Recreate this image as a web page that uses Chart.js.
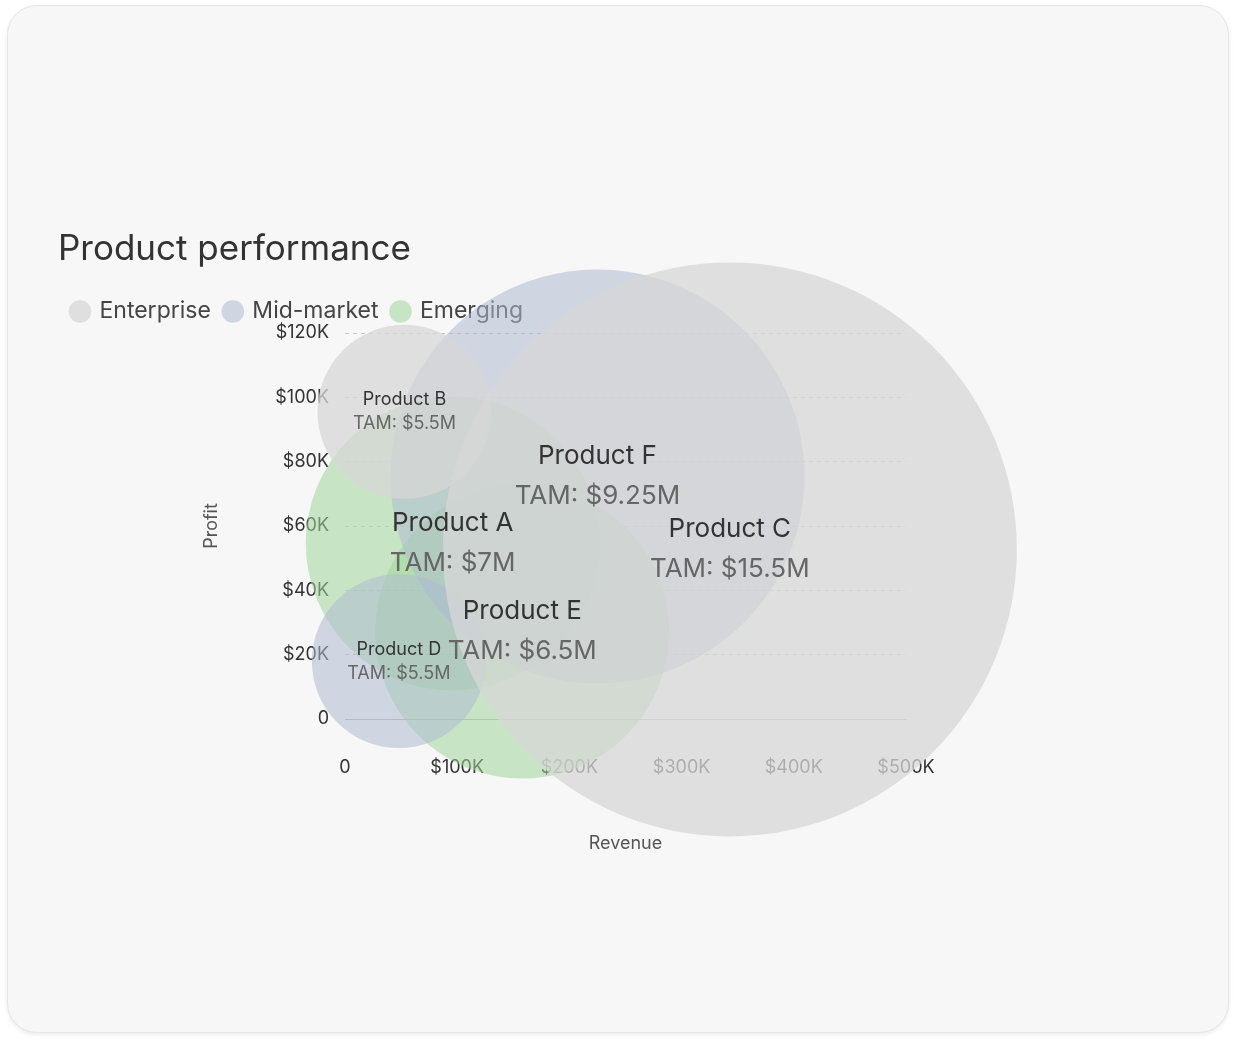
<!DOCTYPE html>
<html>
<head>
<meta charset="utf-8">
<script src="https://cdn.jsdelivr.net/npm/chart.js@4"></script>
<style>
  body { margin: 0; background: #fff; font-family: Inter, sans-serif; }
  .card { position: absolute; left: 7px; top: 5px; width: 1220px; height: 1026px;
          background: #f7f7f7; border: 1px solid #e6e6e6; border-radius: 30px;
          box-shadow: 0 2px 4px rgba(0,0,0,0.08); }
  #myChart { position: absolute; left: 50px; top: 40px; }
</style>
</head>
<body>
<div class="card"><canvas id="myChart" width="1135" height="960" style="width:1135px;height:960px"></canvas></div>
<script>
var products = ['Product A', 'Product B', 'Product C', 'Product D', 'Product E', 'Product F'];
var segment = ['Emerging', 'Enterprise', 'Enterprise', 'Mid-market', 'Emerging', 'Mid-market'];
var revenue = [96, 53, 343, 48, 158, 225];   // $K
var profit = [54.6, 95.5, 52.7, 18, 27.2, 75.4]; // $K
var tamLabel = ['$7M', '$5.5M', '$15.5M', '$5.5M', '$6.5M', '$9.25M'];
var bubbleSize = [147, 87, 287, 87, 147, 207];
var segments = ['Enterprise', 'Mid-market', 'Emerging'];
var segColors = ['rgba(215,215,215,0.75)', 'rgba(175,185,208,0.55)', 'rgba(160,215,155,0.55)'];

var datasets = segments.map(function (s, si) {
  var pts = [];
  products.forEach(function (p, i) {
    if (segment[i] === s) pts.push({ x: revenue[i], y: profit[i], r: bubbleSize[i], name: p, tam: tamLabel[i] });
  });
  return { label: s, data: pts, backgroundColor: segColors[si], borderWidth: 0, hoverRadius: 0, clip: false };
});

var bubbleLabels = {
  id: 'bubbleLabels',
  afterDatasetsDraw: function (chart) {
    var c = chart.ctx;
    c.save();
    c.textAlign = 'center';
    c.textBaseline = 'middle';
    chart.data.datasets.forEach(function (ds, di) {
      chart.getDatasetMeta(di).data.forEach(function (el, i) {
        var d = ds.data[i];
        var big = d.r > 100;
        var fs = big ? 26 : 18;
        var gap = big ? 20 : 12;
        c.font = fs + 'px Inter';
        c.fillStyle = '#333';
        c.fillText(d.name, el.x, el.y - gap);
        c.fillStyle = '#666';
        c.fillText('TAM: ' + d.tam, el.x, el.y + gap);
      });
    });
    c.restore();
  }
};

var ctx = document.getElementById('myChart').getContext('2d');
var chart = new Chart(ctx, {
  type: 'bubble',
  data: { datasets: datasets },
  plugins: [bubbleLabels],
  options: {
    responsive: false,
    animation: false,
    plugins: {
      title: { display: true, text: 'Product performance', align: 'start', color: '#333',
               font: { family: 'Inter', size: 35, weight: 'normal' }, padding: { top: 6, bottom: 16 } },
      legend: { align: 'start', labels: { usePointStyle: true, pointStyle: 'circle', boxWidth: 16, boxHeight: 16,
               color: '#444', font: { family: 'Inter', size: 23 }, padding: 14 } },
      tooltip: { enabled: false }
    },
    layout: { padding: { right: 25, bottom: 12, top: 0 } },
    scales: {
      x: {
        min: 0, max: 500,
        ticks: { stepSize: 100, color: '#333', font: { family: 'Inter', size: 18 }, padding: 30,
                 callback: function (v) { return v === 0 ? '0' : '$' + v + 'K'; } },
        grid: { display: false },
        border: { display: true, color: '#bbb' },
        title: { display: true, text: 'Revenue', color: '#555', font: { family: 'Inter', size: 18 }, padding: { top: 24 } }
      },
      y: {
        min: 0, max: 120,
        afterFit: function (s) { s.width = 148; },
        ticks: { stepSize: 20, color: '#333', font: { family: 'Inter', size: 18 }, padding: 16,
                 callback: function (v) { return v === 0 ? '0' : '$' + v + 'K'; } },
        grid: { color: '#c8c8c8', drawTicks: false },
        border: { display: false, dash: [4, 4] },
        title: { display: true, text: 'Profit', color: '#555', font: { family: 'Inter', size: 18 }, padding: { bottom: 20 } }
      }
    }
  }
});
</script>
</body>
</html>
